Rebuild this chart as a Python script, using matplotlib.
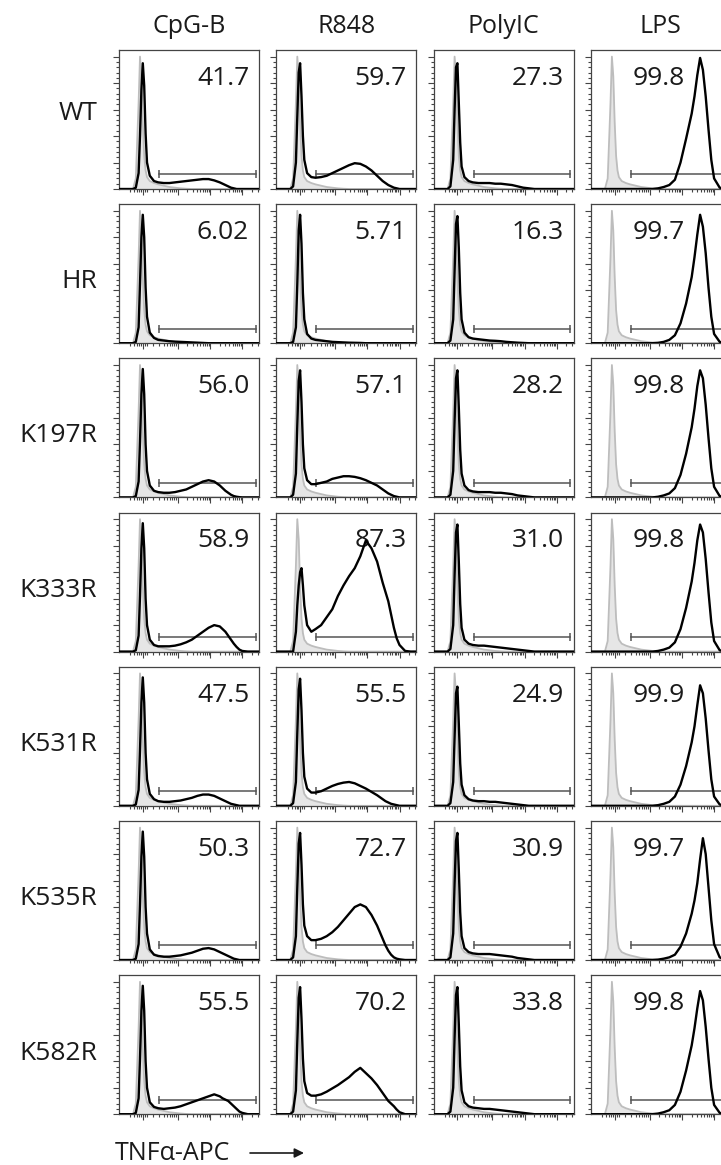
import numpy as np
import matplotlib
matplotlib.use("Agg")
import matplotlib.pyplot as plt

plt.rcParams['font.family'] = ['Open Sans', 'DejaVu Sans']

STIMULI = ["CpG-B", "R848", "PolyIC", "LPS"]
GENOTYPES = ["WT", "HR", "K197R", "K333R", "K531R", "K535R", "K582R"]

# channel position (0-100 across the axis) of every histogram sample
U = [0, 10, 12, 14, 15, 16, 17, 18, 19, 20, 22, 25, 28, 32, 36, 40, 44, 48, 52, 56,
     60, 64, 68, 72, 74, 76, 78, 80, 82, 84, 86, 88, 92, 96, 100]

# unstimulated control (grey filled)
GRAY = [0, 0, 8, 65, 100, 85, 50, 25, 14, 9, 6, 4.5, 3.5, 2.5, 1.5, 1, 0.5, 0.2, 0, 0,
        0, 0, 0, 0, 0, 0, 0, 0, 0, 0, 0, 0, 0, 0, 0]

# stimulated (black line), one row per genotype
CPG_B = [
    [0, 0, 1, 12, 40, 75, 95, 78, 42, 20, 10, 6, 5, 4.5, 4.5, 5, 5.5, 6, 6.5, 7,
     7.5, 7.5, 6.5, 5, 4, 3, 2, 1, 0.5, 0, 0, 0, 0, 0, 0],
    [0, 0, 1, 12, 45, 80, 97, 80, 42, 20, 8, 4, 2.5, 2, 1.5, 1.2, 1, 0.8, 0.6, 0.4,
     0.2, 0, 0, 0, 0, 0, 0, 0, 0, 0, 0, 0, 0, 0, 0],
    [0, 0, 1, 12, 42, 78, 97, 78, 40, 20, 9, 5, 4, 3.5, 3.5, 4, 5, 6, 8, 10,
     12, 13, 12, 9, 7, 5, 3.5, 2, 1, 0.5, 0.2, 0, 0, 0, 0],
    [0, 0, 1, 12, 42, 78, 97, 78, 40, 20, 9, 5, 4, 4, 4, 4.5, 5.5, 7, 9, 12,
     15, 18, 20, 19, 17, 15, 12, 9, 6, 3.5, 1.5, 0.5, 0, 0, 0],
    [0, 0, 1, 12, 42, 78, 97, 78, 40, 20, 9, 5, 3.5, 3, 3, 3.5, 4, 5, 6, 7.5,
     8.5, 8.5, 7.5, 5.5, 4.5, 3.5, 2.5, 1.5, 1, 0.5, 0, 0, 0, 0, 0],
    [0, 0, 1, 12, 42, 78, 97, 78, 40, 20, 8, 4, 3, 2.5, 2.5, 3, 3.5, 4.5, 5.5, 7,
     8.5, 9, 8, 6, 5, 4, 3, 2, 1, 0.5, 0, 0, 0, 0, 0],
    [0, 0, 1, 12, 42, 78, 97, 78, 40, 20, 9, 5.5, 4.5, 4, 4.5, 5, 6, 7.5, 9, 10.5,
     12, 13.5, 15, 13.5, 12, 11, 10, 8, 6, 4, 2, 1, 0, 0, 0],
]
R848 = [
    [0, 0, 2, 20, 55, 88, 95, 70, 40, 22, 12, 9, 8.5, 9, 10, 12, 14, 16, 18, 19.5,
     19, 17, 14, 10, 8, 6, 4.5, 3, 2, 1, 0.5, 0, 0, 0, 0],
    [0, 0, 1, 12, 45, 85, 97, 75, 38, 18, 7, 3.5, 2.5, 2, 1.5, 1, 0.8, 0.6, 0.4, 0.3,
     0.2, 0, 0, 0, 0, 0, 0, 0, 0, 0, 0, 0, 0, 0, 0],
    [0, 0, 2, 18, 55, 88, 96, 72, 40, 22, 13, 10, 10, 11, 12, 14, 15, 16, 16, 15.5,
     14.5, 13, 11, 9, 7.5, 6, 4.5, 3, 2, 1, 0.5, 0, 0, 0, 0],
    [0, 0, 0, 15, 35, 50, 60, 63, 50, 35, 20, 15, 17, 20, 26, 32, 42, 50, 57, 63,
     72, 84, 78, 68, 60, 52, 45, 38, 28, 18, 10, 5, 0.5, 0, 0],
    [0, 0, 2, 18, 55, 88, 96, 72, 40, 22, 13, 10, 10, 11, 13, 15, 16.5, 17.5, 18, 17,
     15, 13, 10.5, 8, 6.5, 5, 3.5, 2.5, 1.5, 1, 0.5, 0, 0, 0, 0],
    [0, 0, 2, 18, 55, 88, 96, 72, 42, 26, 18, 15, 15, 16, 18, 21, 25, 30, 35, 40,
     42, 40, 34, 26, 21, 16, 11, 7, 4, 2, 1, 0.5, 0, 0, 0],
    [0, 0, 2, 18, 55, 88, 96, 72, 42, 25, 16, 14, 14, 15, 17, 19.5, 22, 25, 28, 32,
     35, 31, 27, 22, 19, 16, 13, 10, 8, 6, 3.5, 1.5, 0, 0, 0],
]
POLYIC = [
    [0, 0, 2, 22, 60, 92, 95, 65, 35, 17, 9, 6, 5, 4.5, 4.5, 4.5, 4, 4, 3.5, 3,
     2, 1, 0.5, 0, 0, 0, 0, 0, 0, 0, 0, 0, 0, 0, 0],
    [0, 0, 2, 18, 55, 90, 96, 72, 38, 18, 8, 4.5, 3.5, 3, 2.5, 2, 1.8, 1.5, 1, 0.7,
     0.4, 0.2, 0, 0, 0, 0, 0, 0, 0, 0, 0, 0, 0, 0, 0],
    [0, 0, 2, 20, 58, 90, 96, 68, 36, 18, 9, 5.5, 4.5, 4, 4, 4, 3.5, 3.5, 3, 2.5,
     1.5, 1, 0.5, 0, 0, 0, 0, 0, 0, 0, 0, 0, 0, 0, 0],
    [0, 0, 2, 20, 58, 90, 96, 68, 36, 18, 9, 6, 5, 4.5, 4.5, 4, 3.5, 3, 2.5, 2,
     1.5, 1, 0.5, 0, 0, 0, 0, 0, 0, 0, 0, 0, 0, 0, 0],
    [0, 0, 2, 18, 52, 85, 90, 62, 32, 16, 8, 5, 4, 3.5, 3.5, 3, 3, 2.5, 2, 1.5,
     1, 0.5, 0, 0, 0, 0, 0, 0, 0, 0, 0, 0, 0, 0, 0],
    [0, 0, 2, 20, 58, 90, 96, 68, 36, 18, 9, 6, 5, 4.5, 4.5, 4.5, 4, 3.5, 3, 2.5,
     1.5, 1, 0.5, 0, 0, 0, 0, 0, 0, 0, 0, 0, 0, 0, 0],
    [0, 0, 2, 20, 58, 90, 96, 68, 36, 18, 9, 6, 5, 4.5, 4, 4, 3.5, 3, 2.5, 2,
     1.5, 1, 0.5, 0, 0, 0, 0, 0, 0, 0, 0, 0, 0, 0, 0],
]
LPS = [
    [0, 0, 0, 0, 0, 0, 0, 0, 0, 0, 0, 0, 0, 0, 0, 0, 0, 0.5, 1.5, 3,
     7, 20, 38, 57, 70, 86, 99, 90, 70, 45, 22, 8, 1, 0, 0],
    [0, 0, 0, 0, 0, 0, 0, 0, 0, 0, 0, 0, 0, 0, 0, 0, 0, 0.3, 1, 2.5,
     6, 15, 30, 50, 65, 82, 97, 88, 68, 42, 20, 7, 1, 0, 0],
    [0, 0, 0, 0, 0, 0, 0, 0, 0, 0, 0, 0, 0, 0, 0, 0, 0, 0.5, 1.5, 3,
     7, 17, 33, 53, 67, 84, 96, 90, 70, 45, 22, 8, 1, 0, 0],
    [0, 0, 0, 0, 0, 0, 0, 0, 0, 0, 0, 0, 0, 0, 0, 0, 0, 0.5, 1.5, 3,
     7, 17, 33, 53, 67, 84, 96, 90, 70, 45, 22, 8, 1, 0, 0],
    [0, 0, 0, 0, 0, 0, 0, 0, 0, 0, 0, 0, 0, 0, 0, 0, 0, 0.5, 1.5, 3,
     7, 16, 30, 48, 60, 76, 91, 85, 66, 42, 20, 7, 1, 0, 0],
    [0, 0, 0, 0, 0, 0, 0, 0, 0, 0, 0, 0, 0, 0, 0, 0, 0, 0.3, 1, 2,
     4, 10, 20, 35, 45, 58, 76, 92, 80, 55, 30, 12, 2, 0, 0],
    [0, 0, 0, 0, 0, 0, 0, 0, 0, 0, 0, 0, 0, 0, 0, 0, 0, 0.5, 1.5, 3,
     7, 17, 33, 52, 65, 80, 93, 86, 66, 42, 20, 7, 1, 0, 0],
]

PCT_CPG_B = ["41.7", "6.02", "56.0", "58.9", "47.5", "50.3", "55.5"]
PCT_R848 = ["59.7", "5.71", "57.1", "87.3", "55.5", "72.7", "70.2"]
PCT_POLYIC = ["27.3", "16.3", "28.2", "31.0", "24.9", "30.9", "33.8"]
PCT_LPS = ["99.8", "99.7", "99.8", "99.8", "99.9", "99.7", "99.8"]

GATE = (28.5, 97.5, 11)  # left, right, height in channel units

curves = [CPG_B, R848, POLYIC, LPS]
pcts = [PCT_CPG_B, PCT_R848, PCT_POLYIC, PCT_LPS]

W, H = 721, 1165
fig = plt.figure(figsize=(W / 100, H / 100), dpi=100)

col_left = [119 + 157.3 * c for c in range(4)]
row_top = [50 + 154.2 * r for r in range(7)]
pw, ph = 140, 139
frame = '#444444'
ink = '#1a1a1a'

# biexponential-looking tick layout
major_x = [17, 42, 65, 88]
minor_x = [8, 11, 13, 14.5, 15.5, 18.5, 20]
minor_x += [17 + 25 * np.log10(k) for k in range(2, 10)]
for base in (42, 65, 88):
    minor_x += [base + 23 * np.log10(k) for k in range(2, 10) if base + 23 * np.log10(k) < 100]

for c in range(4):
    for r in range(7):
        ax = fig.add_axes([col_left[c] / W, 1 - (row_top[r] + ph) / H, pw / W, ph / H])
        ax.fill_between(U, GRAY, color='#e6e6e6', lw=0, zorder=2)
        ax.plot(U, GRAY, color='#bdbdbd', lw=1.3, zorder=2.5)
        ax.plot(U, curves[c][r], color='black', lw=1.7, zorder=3)
        gx0, gx1, gy = GATE
        ax.plot([gx0, gx1], [gy, gy], color='#555555', lw=1.1, marker='|',
                ms=6, mew=1.1, zorder=2.8)
        tx = 67 if c == 3 else 93
        ax.text(tx, 0.75 * 105, pcts[c][r], ha='right', va='baseline',
                fontsize=19, color=ink, zorder=1)
        ax.set_xlim(0, 100)
        ax.set_ylim(0, 105)
        ax.set_xticks(major_x)
        ax.set_xticks(minor_x, minor=True)
        ax.set_yticks(np.arange(0, 101, 20))
        ax.set_yticks([v for v in range(0, 104, 4) if v % 20], minor=True)
        ax.tick_params(which='both', direction='out', color=frame, width=0.8,
                       labelbottom=False, labelleft=False)
        ax.tick_params(which='major', length=4)
        ax.tick_params(which='minor', length=2)
        for s in ax.spines.values():
            s.set_color(frame)
            s.set_linewidth(0.9)

for c, name in enumerate(STIMULI):
    fig.text((col_left[c] + pw / 2) / W, 1 - 33 / H, name, ha='center',
             va='baseline', fontsize=18, color=ink)

label_base = [120, 288, 442, 597, 751, 905, 1060]
for r, name in enumerate(GENOTYPES):
    fig.text(97 / W, 1 - label_base[r] / H, name, ha='right', va='baseline',
             fontsize=19, color=ink)

fig.text(115 / W, 1 - 1160 / H, "TNFα-APC", ha='left', va='baseline',
         fontsize=18, color=ink)
fig.axes[0].annotate('', xy=(304 / W, 1 - 1153 / H), xytext=(250 / W, 1 - 1153 / H),
                     xycoords='figure fraction', textcoords='figure fraction',
                     arrowprops=dict(arrowstyle='-|>', color=ink, lw=1.2,
                                     mutation_scale=14, shrinkA=0, shrinkB=0))

fig.savefig("out.png", dpi=100)
